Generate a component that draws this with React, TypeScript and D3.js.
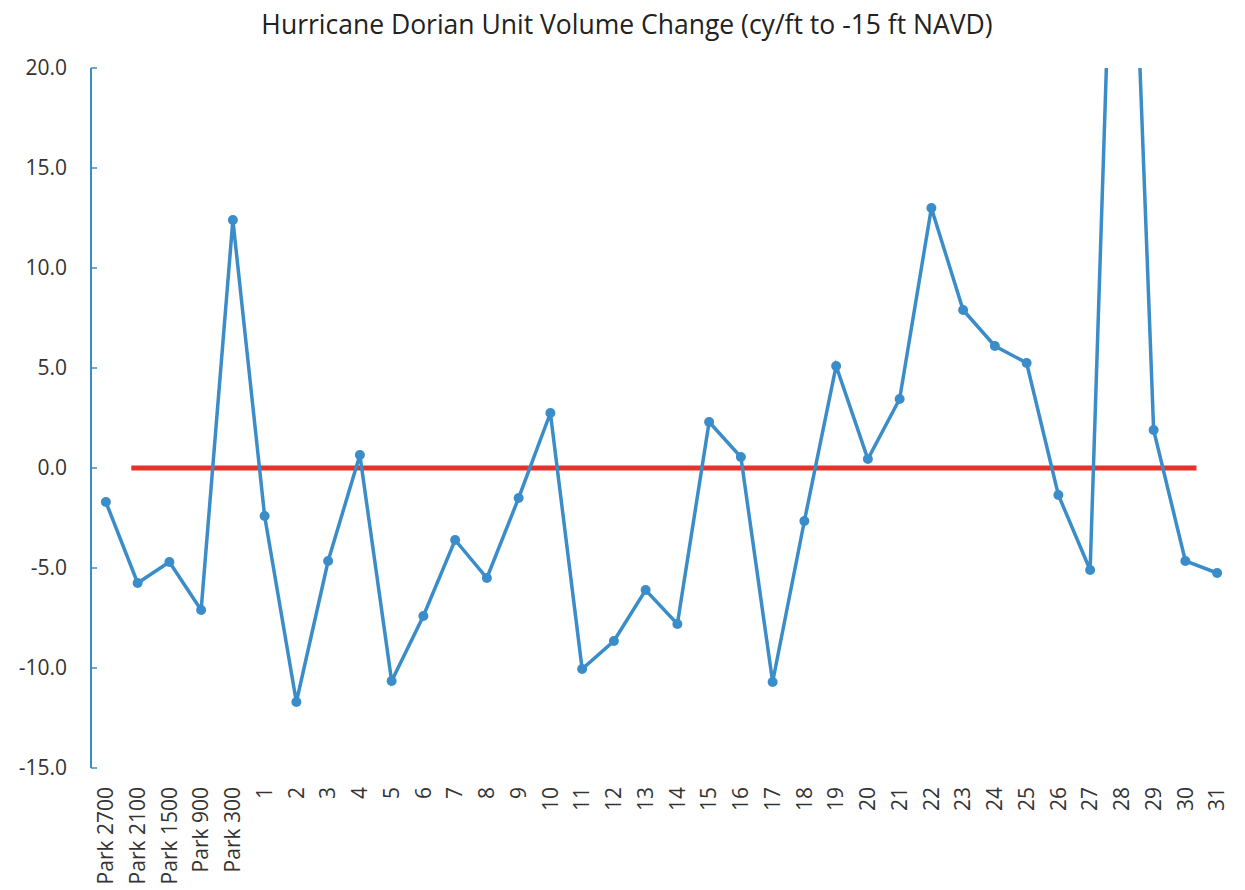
import * as d3 from 'd3';

// Transect labels along the shoreline
const categories = [
  'Park 2700', 'Park 2100', 'Park 1500', 'Park 900', 'Park 300',
  '1', '2', '3', '4', '5', '6', '7', '8', '9', '10',
  '11', '12', '13', '14', '15', '16', '17', '18', '19', '20',
  '21', '22', '23', '24', '25', '26', '27', '28', '29', '30', '31',
];

// Unit volume change (cy/ft)
const volumeChange = [
  -1.7, -5.75, -4.7, -7.1, 12.4,
  -2.4, -11.7, -4.65, 0.65, -10.65, -7.4, -3.6, -5.5, -1.5, 2.75,
  -10.05, -8.65, -6.1, -7.8, 2.3, 0.55, -10.7, -2.65, 5.1, 0.45,
  3.45, 13.0, 7.9, 6.1, 5.25, -1.35, -5.1, 44.0, 1.9, -4.65, -5.25,
];

const yTicks = [20, 15, 10, 5, 0, -5, -10, -15];
const zeroLine = [0, 0];

const title = 'Hurricane Dorian Unit Volume Change (cy/ft to -15 ft NAVD)';

const W = 1245;
const H = 890;
const FONT = '"Open Sans", sans-serif';
const BLUE = '#3b8dc9';
const RED = '#e5322b';

export default function App() {
  const x = d3.scaleBand<string>().domain(categories).range([90, 1233]);
  const y = d3.scaleLinear().domain([-15, 20]).range([768, 68]);
  const cx = (c: string) => (x(c) ?? 0) + x.bandwidth() / 2;

  const line = d3
    .line<number>()
    .x((_, i) => cx(categories[i]))
    .y(d => y(d));

  // red zero reference line spans roughly Park 2100 .. 30
  const step = x.step();
  const redX0 = cx('Park 2100') - 0.2 * step;
  const redX1 = cx('30') + 0.35 * step;

  return (
    <svg width={W} height={H} style={{ position: 'absolute', left: 0, top: 0, background: '#fff' }}>
      <defs>
        <clipPath id="plot">
          <rect x={85} y={y(20)} width={1160} height={y(-15) - y(20) + 10} />
        </clipPath>
      </defs>

      <text x={627} y={34} textAnchor="middle" fontFamily={FONT} fontSize={26.5} fill="#222">
        {title}
      </text>

      {/* y axis */}
      <line x1={91} x2={91} y1={y(20)} y2={y(-15)} stroke={BLUE} strokeWidth={2} />
      {yTicks.map(t => (
        <g key={t}>
          <line x1={91} x2={97} y1={y(t)} y2={y(t)} stroke={BLUE} strokeWidth={1.5} />
          <text
            x={67}
            y={y(t)}
            dy="0.35em"
            textAnchor="end"
            fontFamily={FONT}
            fontSize={21}
            fill="#333"
          >
            {t.toFixed(1)}
          </text>
        </g>
      ))}

      {/* x labels */}
      {categories.map(c => (
        <text
          key={c}
          transform={`translate(${cx(c)},787) rotate(-90)`}
          dy="0.35em"
          textAnchor="end"
          fontFamily={FONT}
          fontSize={21}
          fill="#333"
        >
          {c}
        </text>
      ))}

      <line
        x1={redX0}
        x2={redX1}
        y1={y(zeroLine[0])}
        y2={y(zeroLine[1])}
        stroke={RED}
        strokeWidth={5}
      />

      <g clipPath="url(#plot)">
        <path d={line(volumeChange) ?? ''} fill="none" stroke={BLUE} strokeWidth={3.5} />
        {volumeChange.map((v, i) => (
          <circle key={i} cx={cx(categories[i])} cy={y(v)} r={5} fill={BLUE} />
        ))}
      </g>
    </svg>
  );
}
